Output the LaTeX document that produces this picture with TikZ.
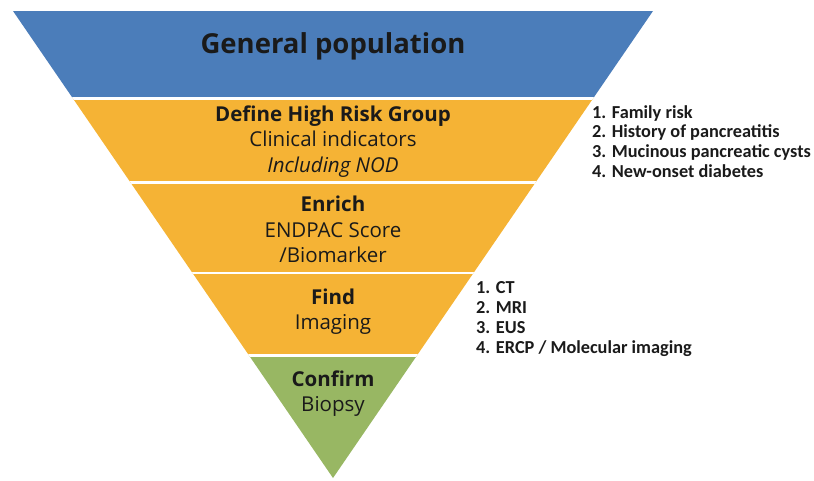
\documentclass[tikz,border=0pt]{standalone}
\usepackage{fontspec}
\setmainfont{Open Sans}
\newfontfamily\listfont{Carlito}
\definecolor{popblue}{HTML}{4B7DBA}
\definecolor{funnelorange}{HTML}{F5B335}
\definecolor{funnelgreen}{HTML}{98B763}
\definecolor{txt}{HTML}{1A1A1A}
\begin{document}
\begin{tikzpicture}[x=1pt,y=-1pt,
  stage/.style={text=txt, align=center, font=\fontsize{20.5}{25.2}\selectfont},
  itemlist/.style={text=txt, align=left, anchor=north west, inner sep=0pt,
    font=\listfont\bfseries\fontsize{18.3}{19.8}\selectfont},
  gap/.style={draw=white, line width=2.6pt}]
\useasboundingbox (0,0) rectangle (814,480);
% funnel body, clipped to the inverted triangle
\begin{scope}
  \clip (13,11) -- (653,11) -- (333,478) -- cycle;
  \fill[popblue] (0,0) rectangle (814,98);
  \fill[funnelorange] (0,98) rectangle (814,355);
  \fill[funnelgreen] (0,355) rectangle (814,480);
  \draw[gap] (0,98.3) -- (814,98.3);
  \draw[gap] (0,182.3) -- (814,182.3);
  \draw[gap] (0,272.8) -- (814,272.8);
  \draw[gap] (0,355.3) -- (814,355.3);
\end{scope}
% stage labels
\node[text=txt, font=\bfseries\fontsize{27.5}{30}\selectfont] (general) at (333,46) {General population};
\node[stage] (define) at (333,141.5) {\textbf{Define High Risk Group}\\Clinical indicators\\\textit{Including NOD}};
\node[stage] (enrich) at (333,229.5) {\textbf{Enrich}\\ENDPAC Score\\/Biomarker};
\node[stage] (find) at (333,311.5) {\textbf{Find}\\Imaging};
\node[stage] (confirm) at (333,394) {\textbf{Confirm}\\Biopsy};
% side lists
\node[itemlist] (risks) at (592,105) {1. Family risk\\2. History of pancreatitis\\3. Mucinous pancreatic cysts\\4. New-onset diabetes};
\node[itemlist] (imaging) at (476,281.5) {1. CT\\2. MRI\\3. EUS\\4. ERCP / Molecular imaging};
\end{tikzpicture}
\end{document}
